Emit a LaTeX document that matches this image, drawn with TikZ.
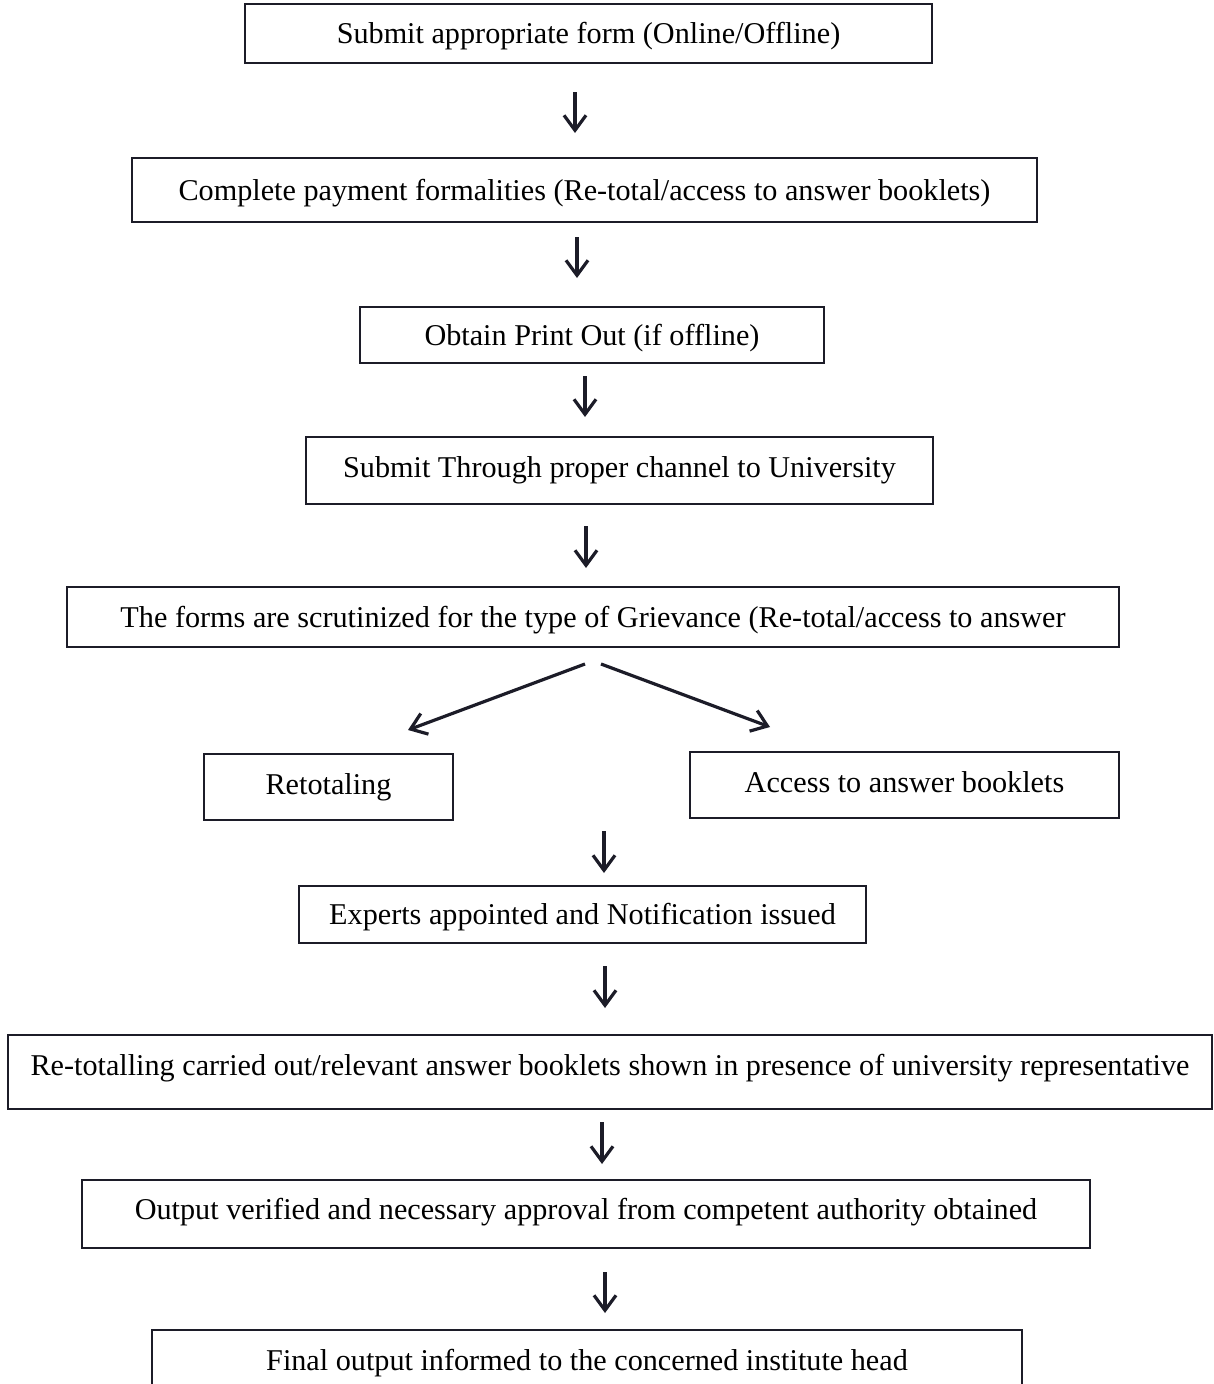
\documentclass[tikz,border=0pt]{standalone}
\usepackage{fontspec}
\setmainfont{Liberation Serif}
\usetikzlibrary{arrows.meta}
\definecolor{ink}{RGB}{28,28,40}

\begin{document}
\begin{tikzpicture}[x=1pt,y=-1pt,
	box/.style={draw=ink, line width=1.7pt, inner sep=0pt, text=black,
		font=\fontsize{30.2}{36}\selectfont, text height=27pt, text depth=7pt},
	lift/.style={text depth=#1},
	flow/.style={draw=ink, line width=3.2pt,
		-{Straight Barb[length=15pt,width=22pt]}}]
	\useasboundingbox (0,0) rectangle (1214,1384);

	% Steps
	\node[box, minimum width=687, minimum height=59] (form) at (588.5,33.5) {Submit appropriate form (Online/Offline)};
	\node[box, minimum width=905, minimum height=64] (pay) at (584.5,190) {Complete payment formalities (Re-total/access to answer booklets)};
	\node[box, minimum width=464, minimum height=56] (print) at (592,335) {Obtain Print Out (if offline)};
	\node[box, lift=13pt, minimum width=627, minimum height=67] (channel) at (619.5,470.5) {Submit Through proper channel to University};
	\node[box, minimum width=1052, minimum height=60] (scrut) at (593,617) {The forms are scrutinized for the type of Grievance (Re-total/access to answer};

	% Two branches
	\node[box, lift=12pt, minimum width=249, minimum height=66] (retot) at (328.5,787) {Retotaling};
	\node[box, lift=12pt, minimum width=429, minimum height=66] (access) at (904.5,785) {Access to answer booklets};

	\node[box, minimum width=567, minimum height=57] (experts) at (582.5,914.5) {Experts appointed and Notification issued};
	\node[box, lift=20pt, minimum width=1204, minimum height=74] (shown) at (610,1072) {Re-totalling carried out/relevant answer booklets shown in presence of university representative};
	\node[box, lift=16pt, minimum width=1008, minimum height=68] (approval) at (586,1214) {Output verified and necessary approval from competent authority obtained};
	\node[box, lift=16pt, minimum width=870, minimum height=70] (final) at (587,1365) {Final output informed to the concerned institute head};

	% Arrow ends
	\coordinate (a1s) at (575,92);   \coordinate (a1e) at (575,133);
	\coordinate (a2s) at (577,237);  \coordinate (a2e) at (577,278);
	\coordinate (a3s) at (585,376);  \coordinate (a3e) at (585,417);
	\coordinate (a4s) at (586,526);  \coordinate (a4e) at (586,568);
	\coordinate (ls) at (585,664);   \coordinate (le) at (408,730);
	\coordinate (rs) at (601,664);   \coordinate (re) at (770,727);
	\coordinate (a5s) at (604,831);  \coordinate (a5e) at (604,873);
	\coordinate (a6s) at (605,966);  \coordinate (a6e) at (605,1008);
	\coordinate (a7s) at (602,1122); \coordinate (a7e) at (602,1164);
	\coordinate (a8s) at (605,1272); \coordinate (a8e) at (605,1313);

	\draw[flow] (a1s) -- (a1e);
	\draw[flow] (a2s) -- (a2e);
	\draw[flow] (a3s) -- (a3e);
	\draw[flow] (a4s) -- (a4e);
	\draw[flow] (ls) -- (le);
	\draw[flow] (rs) -- (re);
	\draw[flow] (a5s) -- (a5e);
	\draw[flow] (a6s) -- (a6e);
	\draw[flow] (a7s) -- (a7e);
	\draw[flow] (a8s) -- (a8e);
\end{tikzpicture}
\end{document}
